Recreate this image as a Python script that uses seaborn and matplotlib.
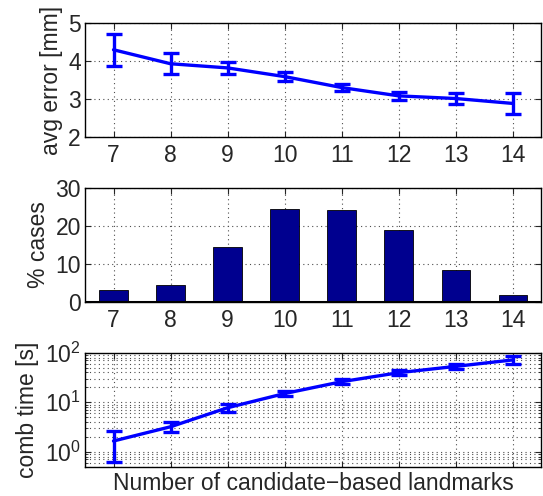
import numpy as np
import pandas as pd
import matplotlib
matplotlib.use("Agg")
import matplotlib.pyplot as plt
import seaborn as sns
from matplotlib.ticker import LogLocator, NullFormatter

landmarks = [7, 8, 9, 10, 11, 12, 13, 14]
avg_error = [4.30, 3.93, 3.82, 3.59, 3.30, 3.08, 3.01, 2.88]
avg_error_sd = [0.42, 0.28, 0.15, 0.11, 0.09, 0.10, 0.15, 0.28]
pct_cases = [3.05, 4.35, 14.6, 24.4, 24.2, 19.0, 8.5, 1.7]
comb_time = [1.65, 3.2, 7.75, 15.0, 26.0, 39.5, 53.0, 71.5]
comb_time_sd = [1.03, 0.75, 1.35, 1.7, 2.8, 4.3, 6.5, 13.7]

sns.set_style("ticks")
plt.rcParams['font.family'] = ['Liberation Sans', 'DejaVu Sans']
plt.rcParams['mathtext.default'] = 'regular'
plt.rcParams['font.size'] = 16.5

df = pd.DataFrame({"n": landmarks, "err": avg_error, "err_sd": avg_error_sd,
                   "pct": pct_cases, "t": comb_time, "t_sd": comb_time_sd})

fig = plt.figure(figsize=(5.43, 4.96), dpi=100)
L, W = 0.1565, 0.8405
ax1 = fig.add_axes([L, 0.7244, W, 0.2286])
ax2 = fig.add_axes([L, 0.3917, W, 0.2286])
ax3 = fig.add_axes([L, 0.0591, W, 0.2298])

blue = (0, 0, 1)
grid_kw = dict(color='0.3', linestyle=(0, (1, 3)), linewidth=0.8)

# top
sns.lineplot(data=df, x="n", y="err", ax=ax1, color=blue, linewidth=2.4)
ax1.errorbar(df["n"], df["err"], yerr=df["err_sd"], fmt='none', ecolor=blue,
             elinewidth=2.4, capsize=6, capthick=2.4)
ax1.set_ylim(2, 5)
ax1.set_yticks([2, 3, 4, 5])
ax1.set_ylabel("avg error [mm]")

# middle
sns.barplot(data=df, x="n", y="pct", ax=ax2, native_scale=True, width=0.5,
            color=(0, 0, 0.5625), saturation=1, edgecolor='black', linewidth=0.6)
ax2.set_ylim(0, 30)
ax2.set_yticks([0, 10, 20, 30])
ax2.set_ylabel("% cases")
ax2.axhline(0, color='black', linewidth=2.2, zorder=5)

# bottom
sns.lineplot(data=df, x="n", y="t", ax=ax3, color=blue, linewidth=2.4)
ax3.errorbar(df["n"], df["t"], yerr=df["t_sd"], fmt='none', ecolor=blue,
             elinewidth=2.4, capsize=6, capthick=2.4)
ax3.set_yscale('log')
ax3.set_ylim(0.5, 100)
ax3.yaxis.set_major_locator(LogLocator(base=10, numticks=10))
ax3.yaxis.set_minor_locator(LogLocator(base=10, subs=np.arange(2, 10), numticks=20))
ax3.yaxis.set_minor_formatter(NullFormatter())
ax3.set_ylabel("comb time [s]")
ax3.set_xlabel("Number of candidate\u2212based landmarks", labelpad=4)
ax3.tick_params(axis='x', labelbottom=False)
ax3.grid(True, which='both', axis='y', **grid_kw)

for ax in (ax1, ax2, ax3):
    ax.set_xlim(6.5, 14.5)
    ax.set_xticks(landmarks)
    ax.grid(True, which='major', **grid_kw)
    ax.set_axisbelow(True)
    ax.tick_params(direction='in', top=True, right=True, length=4, width=0.8, pad=3)
    ax.tick_params(which='minor', direction='in', right=True, length=2, width=0.6)
    for s in ax.spines.values():
        s.set_visible(True)
        s.set_color('black')
        s.set_linewidth(1.0)
    ax.yaxis.labelpad = 4
for ax in (ax1, ax2):
    ax.set_xlabel("")
    ax.set_xticklabels([str(v) for v in landmarks])
    ax.tick_params(axis='x', pad=5)

fig.savefig("out.png", dpi=100)
